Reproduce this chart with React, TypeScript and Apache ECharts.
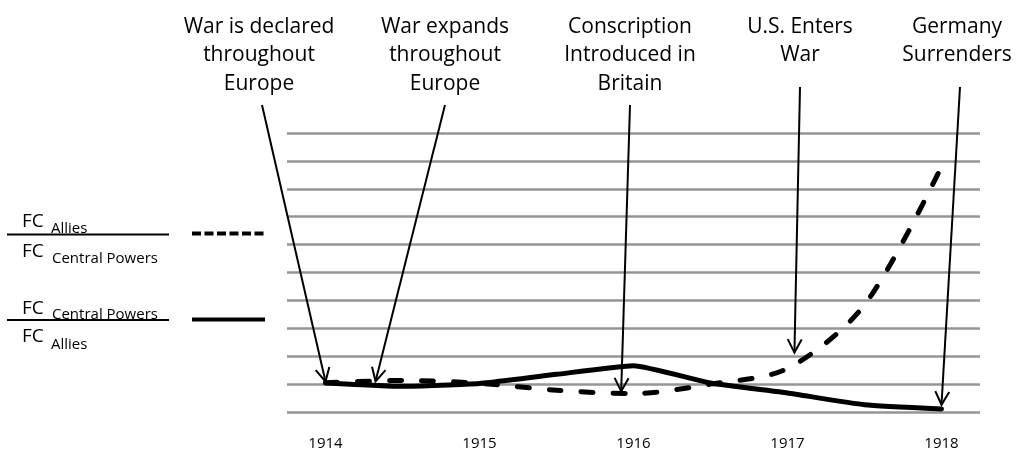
import React, { useEffect, useRef } from 'react';
import * as echarts from 'echarts';

// Half-year steps; only whole years are labelled
const periods = ['1914', '1914.5', '1915', '1915.5', '1916', '1916.5', '1917', '1917.5', '1918'];
// FC Allies / FC Central Powers (dashed)
const alliesOverCentral = [1.05, 1.13, 1.03, 0.78, 0.66, 1.0, 1.56, 3.84, 8.8];
// FC Central Powers / FC Allies (solid)
const centralOverAllies = [1.04, 0.92, 1.02, 1.35, 1.66, 1.04, 0.68, 0.26, 0.11];

// Event annotations
const eventTexts = [
  'War is declared\nthroughout\nEurope',
  'War expands\nthroughout\nEurope',
  'Conscription\nIntroduced in\nBritain',
  'U.S. Enters\nWar',
  'Germany\nSurrenders',
];
// where each arrow points (category position, value)
const eventTargetIndex = [0, 0.65, 3.84, 6.09, 8.0];
const eventTargetValue = [1.09, 1.1, 0.74, 2.13, 0.26];

const FONT = '"Open Sans", "Noto Sans", sans-serif';

export default function App() {
  const ref = useRef<HTMLDivElement>(null);
  useEffect(() => {
    if (!ref.current) return;
    const chart = echarts.init(ref.current, undefined, { renderer: 'svg' });
    chart.setOption({
      animation: false,
      grid: { left: 287, right: 38, top: 133, bottom: 42, containLabel: false },
      xAxis: {
        type: 'category',
        data: periods,
        boundaryGap: true,
        axisLine: { show: false },
        axisTick: { show: false },
        axisLabel: { interval: 1, color: '#000', fontFamily: FONT, fontSize: 15, margin: 22 },
      },
      yAxis: {
        type: 'value',
        min: 0,
        max: 10,
        interval: 1,
        axisLabel: { show: false },
        axisLine: { show: false },
        axisTick: { show: false },
        splitLine: { lineStyle: { color: '#959595', width: 2.5 } },
      },
      series: [
        {
          name: 'FC Allies / FC Central Powers',
          type: 'line',
          data: alliesOverCentral,
          symbol: 'none',
          smooth: 0.3,
          lineStyle: { color: '#000', width: 5, type: [12, 20], cap: 'round', join: 'round' },
          z: 3,
        },
        {
          name: 'FC Central Powers / FC Allies',
          type: 'line',
          data: centralOverAllies,
          symbol: 'none',
          smooth: 0.15,
          lineStyle: { color: '#000', width: 5, cap: 'round', join: 'round' },
          z: 2,
        },
      ],
    });

    // annotation layout (pixel anchors of texts)
    const textCenters = [259, 445, 630, 800, 957];
    const arrowStarts = [
      [262, 105],
      [445, 105],
      [630, 105],
      [800, 87],
      [960, 87],
    ];
    const x0 = chart.convertToPixel({ xAxisIndex: 0 }, 0) as number;
    const x1 = chart.convertToPixel({ xAxisIndex: 0 }, 1) as number;
    const step = x1 - x0;

    const elements: any[] = [];
    const txt = (text: string, x: number, y: number, size: number, align = 'left', vAlign = 'middle', lh?: number) => ({
      type: 'text',
      x,
      y,
      z: 100,
      style: {
        text,
        fill: '#000',
        fontSize: size,
        fontFamily: FONT,
        align,
        textAlign: align,
        verticalAlign: vAlign,
        textVerticalAlign: vAlign,
        lineHeight: lh ?? Math.round(size * 1.3),
      },
    });

    eventTexts.forEach((t, i) => {
      elements.push(txt(t, textCenters[i], 10.5, 21, 'center', 'top', 28.5));
      const tx = x0 + eventTargetIndex[i] * step;
      const ty = chart.convertToPixel({ yAxisIndex: 0 }, eventTargetValue[i]) as number;
      const [sx, sy] = arrowStarts[i];
      const ang = Math.atan2(ty - sy, tx - sx);
      const L = 15;
      const a = Math.PI / 6.5;
      const p1 = [tx - L * Math.cos(ang - a), ty - L * Math.sin(ang - a)];
      const p2 = [tx - L * Math.cos(ang + a), ty - L * Math.sin(ang + a)];
      elements.push({
        type: 'line',
        z: 100,
        shape: { x1: sx, y1: sy, x2: tx, y2: ty },
        style: { stroke: '#000', lineWidth: 2 },
      });
      elements.push({
        type: 'polyline',
        z: 100,
        shape: { points: [p1, [tx, ty], p2] },
        style: { stroke: '#000', lineWidth: 2, fill: 'none' },
      });
    });

    // Legend drawn as fractions
    elements.push(txt('FC', 22, 220, 19));
    elements.push(txt('Allies', 51, 227, 15));
    elements.push({ type: 'line', z: 100, shape: { x1: 7, y1: 234.5, x2: 169, y2: 234.5 }, style: { stroke: '#000', lineWidth: 2 } });
    elements.push(txt('FC', 22, 250, 19));
    elements.push(txt('Central Powers', 52, 256.5, 15));
    elements.push({ type: 'line', z: 100, shape: { x1: 192, y1: 233.5, x2: 265, y2: 233.5 }, style: { stroke: '#000', lineWidth: 4, lineDash: [9, 3.5] } });

    elements.push(txt('FC', 22, 306.5, 19));
    elements.push(txt('Central Powers', 52, 312.5, 15));
    elements.push({ type: 'line', z: 100, shape: { x1: 7, y1: 320, x2: 169, y2: 320 }, style: { stroke: '#000', lineWidth: 2 } });
    elements.push(txt('FC', 22, 335, 19));
    elements.push(txt('Allies', 51, 343, 15));
    elements.push({ type: 'line', z: 100, shape: { x1: 192, y1: 319.5, x2: 265, y2: 319.5 }, style: { stroke: '#000', lineWidth: 4 } });

    chart.setOption({ graphic: { elements } });

    return () => chart.dispose();
  }, []);
  return <div ref={ref} style={{ position: 'fixed', left: 0, top: 0, width: 1018, height: 454 }} />;
}
